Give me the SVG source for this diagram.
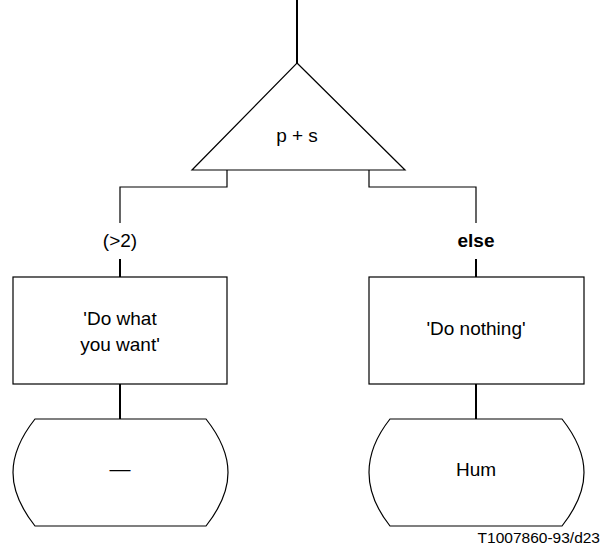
<svg xmlns="http://www.w3.org/2000/svg" width="604" height="548" viewBox="0 0 604 548">
  <style>
    .shape { fill: #ffffff; stroke: #000000; stroke-width: 1.2; }
    .wire { fill: none; stroke: #000000; stroke-width: 1.2; }
    .stem { fill: none; stroke: #000000; stroke-width: 2; }
    .lbl { font-family: "Liberation Sans", Arial, sans-serif; font-size: 19px; fill: #000000; text-anchor: middle; }
    .bold { font-weight: bold; }
    .ref { font-family: "Liberation Sans", Arial, sans-serif; font-size: 15.5px; fill: #000000; text-anchor: end; }
  </style>

  <!-- connectors -->
  <g id="connectors">
    <line class="stem" x1="297" y1="0" x2="297" y2="63"/>
    <polyline class="wire" points="227,170 227,187 120,187 120,223"/>
    <line class="stem" x1="120" y1="259" x2="120" y2="277"/>
    <polyline class="wire" points="369,170 369,187 476,187 476,223"/>
    <line class="stem" x1="476" y1="259" x2="476" y2="277"/>
    <line class="stem" x1="120" y1="384" x2="120" y2="419"/>
    <line class="stem" x1="476" y1="384" x2="476" y2="419"/>
  </g>

  <!-- decision -->
  <g id="decision">
    <polygon class="shape" points="297,63 405,170 192,170"/>
    <text class="lbl" x="297" y="142">p + s</text>
  </g>

  <!-- branch labels -->
  <g id="label-gt2">
    <text class="lbl" x="120" y="247">(&gt;2)</text>
  </g>
  <g id="label-else">
    <text class="lbl bold" x="476" y="247">else</text>
  </g>

  <!-- task boxes -->
  <g id="task-left">
    <rect class="shape" x="13" y="277" width="214" height="107"/>
    <text class="lbl" x="120" y="325">'Do what</text>
    <text class="lbl" x="120" y="351">you want'</text>
  </g>
  <g id="task-right">
    <rect class="shape" x="369" y="277" width="215" height="107"/>
    <text class="lbl" x="476" y="335">'Do nothing'</text>
  </g>

  <!-- terminals -->
  <g id="term-left">
    <path class="shape" d="M35,419 L206,419 C221,438 228,455 228,472.5 C228,490 221,507 206,526 L35,526 C20,507 13,490 13,472.5 C13,455 20,438 35,419 Z"/>
    <text class="lbl" x="120" y="476" style="font-size:21px">—</text>
  </g>
  <g id="term-right">
    <path class="shape" d="M390,419 L562,419 C577,438 584,455 584,472.5 C584,490 577,507 562,526 L390,526 C375,507 369,490 369,472.5 C369,455 375,438 390,419 Z"/>
    <text class="lbl" x="476" y="476">Hum</text>
  </g>

  <text class="ref" x="600" y="543">T1007860-93/d23</text>
</svg>
